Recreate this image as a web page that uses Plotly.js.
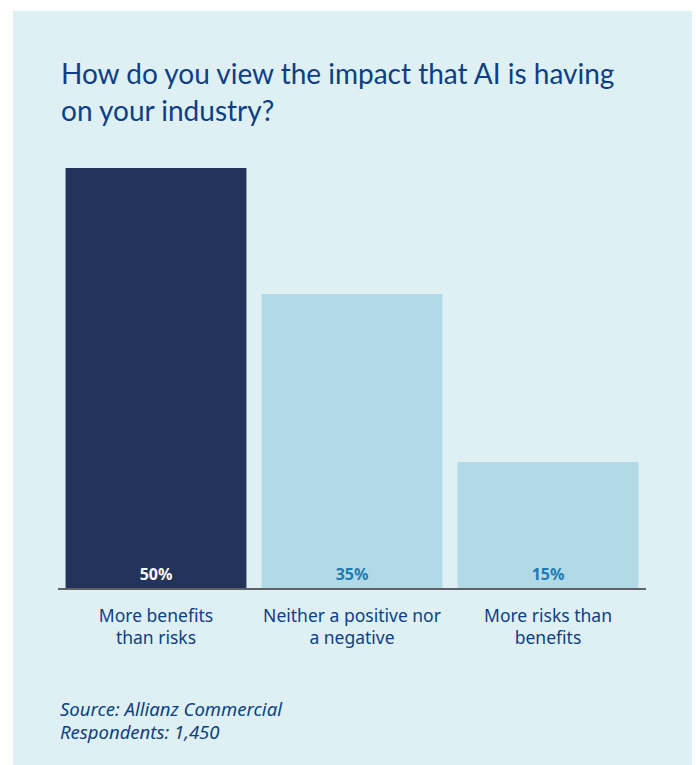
<!DOCTYPE html>
<html>
<head>
<meta charset="utf-8">
<script src="https://cdn.plot.ly/plotly-3.0.1.min.js"></script>
<style>
  html, body { margin: 0; padding: 0; background: #ffffff; width: 696px; height: 765px; overflow: hidden; }
  #chart { position: absolute; left: 13px; top: 11px; width: 679px; height: 754px; }
</style>
</head>
<body>
<div id="chart"></div>
<script>
const categories = ['More benefits<br>than risks', 'Neither a positive nor<br>a negative', 'More risks than<br>benefits'];
const values = [50, 35, 15];
const valueLabels = ['50%', '35%', '15%'];
const titleLines = ['How do you view the impact that AI is having', 'on your industry?'];
const sourceLines = ['Source: Allianz Commercial', 'Respondents: 1,450'];

const W = 679, H = 754;
const M = {l: 45, r: 46, t: 157, b: 177};
const PW = W - M.l - M.r, PH = H - M.t - M.b;
const px2x = p => (p - M.l) / PW;
const py2y = p => (H - M.b - p) / PH;

const FONT = 'Lato, sans-serif';
const FONT2 = 'Noto Sans, sans-serif';
const textBlue = '#0c3f86';

const trace = {
  type: 'bar',
  x: categories,
  y: values,
  text: valueLabels,
  textposition: 'inside',
  insidetextanchor: 'start',
  textangle: 0,
  constraintext: 'none',
  textfont: {family: FONT2, size: 16, weight: 'bold', color: ['#ffffff', '#1d7ab8', '#1d7ab8']},
  marker: {color: ['#22345b', '#b2d9e6', '#b2d9e6'], line: {width: 0}},
  hoverinfo: 'none'
};

const annotations = [];
titleLines.forEach((t, i) => {
  annotations.push({
    text: t, xref: 'paper', yref: 'paper', x: px2x(46), y: py2y(62 + i * 37),
    xanchor: 'left', yanchor: 'middle', showarrow: false,
    font: {family: FONT, size: 28, color: textBlue}
  });
});
sourceLines.forEach((t, i) => {
  annotations.push({
    text: '<i>' + t + '</i>', xref: 'paper', yref: 'paper', x: px2x(45), y: py2y(697 + i * 23),
    xanchor: 'left', yanchor: 'middle', showarrow: false,
    font: {family: FONT2, size: 18.5, color: textBlue}
  });
});

const layout = {
  width: W, height: H,
  margin: M,
  paper_bgcolor: '#dff0f5',
  plot_bgcolor: 'rgba(0,0,0,0)',
  showlegend: false,
  bargap: 0.077,
  xaxis: {
    range: [-0.5, 2.5], fixedrange: true,
    showline: true, linecolor: '#5e6266', linewidth: 1.5,
    showgrid: false, zeroline: false, ticks: '',
    tickfont: {family: FONT2, size: 17.5, color: textBlue},
    ticklabelstandoff: 11
  },
  yaxis: {
    range: [0, 50], visible: false, fixedrange: true
  },
  annotations: annotations
};

Plotly.newPlot('chart', [trace], layout, {displayModeBar: false, staticPlot: true});
</script>
</body>
</html>
